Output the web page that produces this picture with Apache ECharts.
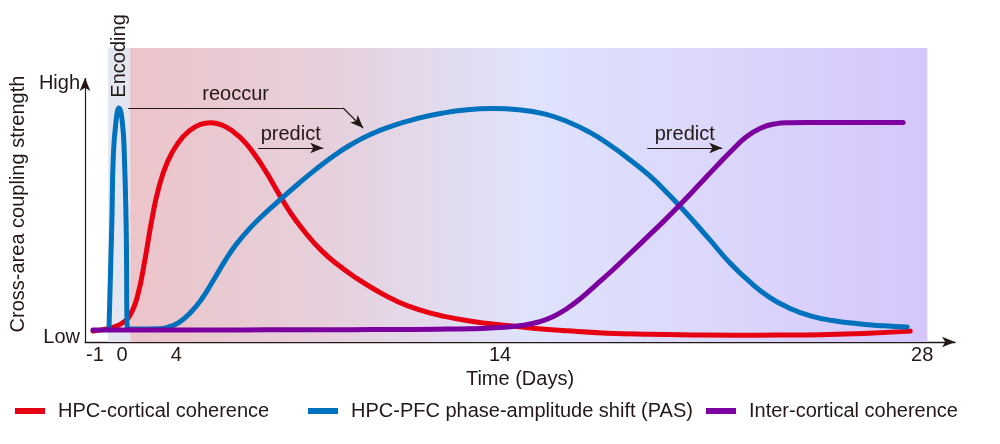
<!DOCTYPE html>
<html>
<head>
<meta charset="utf-8">
<title>Cross-area coupling</title>
<script src="https://cdn.jsdelivr.net/npm/echarts@6/dist/echarts.min.js"></script>
<style>
html, body { margin: 0; padding: 0; background: #fff; }
#main { width: 1000px; height: 444px; }
</style>
</head>
<body>
<div id="main"></div>
<script>
// values (x in drawn days, y in relative strength 0-100)
var hpcCortical = [
    [-1.02, 3.7], [-0.4, 4.8], [0.0, 6.4], [0.3, 9.5], [0.55, 16.0], [0.8, 28.0],
    [1.05, 42.0], [1.3, 53.0], [1.6, 61.5], [1.95, 67.5], [2.35, 71.8], [2.75, 74.0],
    [3.1, 74.6], [3.5, 73.8], [3.9, 71.5], [4.3, 68.0], [4.7, 63.0], [5.1, 57.0],
    [5.5, 50.3], [5.9, 44.0], [6.4, 37.5], [7.0, 31.0], [7.6, 26.0], [8.2, 21.8],
    [8.9, 17.6], [9.6, 14.0], [10.4, 11.0], [11.3, 8.7], [12.3, 7.0], [13.3, 5.8],
    [14.4, 4.7], [15.6, 3.8], [17.0, 3.0], [18.5, 2.6], [20.0, 2.4], [21.5, 2.3],
    [23.0, 2.35], [24.5, 2.5], [26.0, 2.9], [27.63, 3.7]
];
// the encoding spike and the later rise are one series
var hpcPfcPas = [
    [-0.46, 4.4], [-0.36, 40.5], [-0.31, 62.9], [-0.22, 74.5], [-0.11, 79.6], [0.01, 74.5],
    [0.08, 62.9], [0.14, 40.5], [0.20, 4.4], [0.7, 4.4], [1.2, 4.5], [1.6, 5.0],
    [2.0, 6.7], [2.4, 10.0], [2.8, 14.8], [3.2, 21.0], [3.6, 27.5], [4.0, 33.2],
    [4.5, 38.9], [5.0, 43.7], [5.6, 48.9], [6.2, 54.0], [6.8, 58.8], [7.4, 63.2],
    [8.0, 67.0], [8.7, 70.6], [9.5, 73.6], [10.3, 75.9], [11.2, 77.8], [12.1, 79.0],
    [13.0, 79.4], [13.9, 79.0], [14.8, 77.6], [15.6, 75.0], [16.4, 71.3], [17.1, 67.0],
    [17.8, 62.0], [18.5, 56.5], [19.2, 49.8], [19.9, 42.5], [20.6, 34.8], [21.3, 27.0],
    [22.0, 20.5], [22.7, 15.2], [23.4, 11.5], [24.1, 9.0], [24.9, 7.3], [25.8, 6.2],
    [26.7, 5.5], [27.52, 5.1]
];
var interCortical = [
    [-1.02, 4.1], [0.5, 4.1], [2.0, 4.1], [3.5, 4.1], [5.0, 4.15], [6.5, 4.2],
    [8.0, 4.2], [9.5, 4.25], [11.0, 4.35], [12.2, 4.5], [13.2, 4.9], [14.0, 5.6],
    [14.6, 6.8], [15.1, 8.6], [15.6, 11.4], [16.1, 15.0], [16.6, 19.3], [17.2, 24.5],
    [17.8, 30.0], [18.4, 35.6], [19.0, 41.2], [19.6, 47.1], [20.2, 53.2], [20.8, 59.4],
    [21.4, 65.4], [21.9, 69.9], [22.4, 72.8], [22.9, 74.2], [23.4, 74.6], [24.0, 74.7],
    [24.8, 74.7], [25.6, 74.7], [26.5, 74.7], [27.38, 74.7]
];

var xTickPos = [-0.95, 0, 1.9, 13.25, 28.05];
var xTickText = ['-1', '0', '4', '14', '28'];
var yTickPos = [1.7, 88.1];
var yTickText = ['Low', 'High'];

var phaseNames = ['Recent memory', 'System consolidation', 'Remote memory'];
var phaseX = [4.0, 13.36, 23.21];

var seriesNames = ['HPC-cortical coherence', 'HPC-PFC phase-amplitude shift (PAS)', 'Inter-cortical coherence'];
var seriesColors = ['#e60012', '#0071bc', '#7b009f'];

var font = 'Liberation Sans, Arial, sans-serif';
var ink = '#231815';

var myChart = echarts.init(document.getElementById('main'));

var bandGradient = {
    type: 'linear', x: 0, y: 0, x2: 1, y2: 0,
    colorStops: [
        { offset: 0, color: '#ecc4c9' },
        { offset: 0.25, color: '#e6d0dc' },
        { offset: 0.5, color: '#dfe3fb' },
        { offset: 0.75, color: '#dbd6fb' },
        { offset: 1, color: '#d5c6fb' }
    ]
};

function textLabel(txt, rotate) {
    return {
        show: true, position: 'inside', formatter: txt, rotate: rotate || 0,
        color: ink, fontSize: 20, fontFamily: font
    };
}

var headerPoints = phaseNames.map(function (n, i) {
    return { coord: [phaseX[i], 106.8], label: textLabel(n) };
});
headerPoints.push({ coord: [-0.1, 97.3], label: textLabel('Encoding', 90) });

function arrowLabel(txt) {
    return {
        show: true, position: 'insideMiddleTop', distance: 3, formatter: txt,
        color: ink, fontSize: 20, fontFamily: font
    };
}

var option = {
    animation: false,
    grid: { left: 85, right: 45, top: 48, bottom: 102 },
    xAxis: {
        type: 'value', min: -1.3, max: 29.2,
        name: 'Time (Days)', nameLocation: 'middle', nameGap: 22,
        nameTextStyle: { color: ink, fontSize: 20, fontFamily: font },
        axisLine: {
            show: true, onZero: false, symbol: ['none', 'arrow'], symbolSize: [8, 13],
            lineStyle: { color: ink, width: 1.3 }
        },
        axisTick: { show: false },
        splitLine: { show: false },
        axisLabel: {
            customValues: xTickPos, margin: 3,
            color: ink, fontSize: 20, fontFamily: font,
            formatter: function (v) { return xTickText[xTickPos.indexOf(v)]; }
        }
    },
    yAxis: {
        type: 'value', min: 0, max: 100,
        name: 'Cross-area coupling strength', nameLocation: 'middle', nameGap: 51, nameRotate: 90,
        nameTextStyle: { color: ink, fontSize: 20, fontFamily: font, padding: [0, 18, 0, 0] },
        axisLine: { show: false, onZero: false },
        axisTick: { show: false },
        splitLine: { show: false },
        axisLabel: {
            customValues: yTickPos, margin: 5,
            color: ink, fontSize: 20, fontFamily: font,
            formatter: function (v) { return yTickText[yTickPos.indexOf(v)]; }
        }
    },
    legend: seriesNames.map(function (n, i) {
        return {
            data: [n], left: [15, 308, 706][i], top: 401, padding: 0,
            icon: 'rect', itemWidth: 30, itemHeight: 6,
            textStyle: { color: ink, fontSize: 20, fontFamily: font, padding: [0, 0, 0, 8] }
        };
    }),
    series: [
        {
            name: 'decor', type: 'line', data: [], z: 1, silent: true, clip: false,
            markArea: {
                silent: true, label: { show: false },
                data: [
                    [{ coord: [0.28, 0], itemStyle: { color: bandGradient } }, { coord: [28.23, 100] }],
                    [{ coord: [-0.49, 0], itemStyle: { color: '#e3e6f0' } }, { coord: [0.28, 100] }]
                ]
            },
            markLine: {
                silent: true, symbol: ['none', 'none'], symbolSize: [8, 13],
                lineStyle: { color: ink, width: 1.2, type: 'solid' },
                label: { show: false },
                data: [
                    [{ coord: [-1.3, 0] }, { coord: [-1.3, 89.8], symbol: 'arrow' }],
                    [{ coord: [0.21, 79.6], label: arrowLabel('reoccur') }, { coord: [7.75, 79.6] }],
                    [{ coord: [7.75, 79.6] }, { coord: [8.45, 72.8], symbol: 'arrow' }],
                    [{ coord: [4.77, 66.0], label: arrowLabel('predict') }, { coord: [7.05, 66.0], symbol: 'arrow' }],
                    [{ coord: [18.41, 66.0], label: arrowLabel('predict') }, { coord: [21.04, 66.0], symbol: 'arrow' }]
                ]
            },
            markPoint: {
                silent: true, symbolSize: 0,
                data: headerPoints
            }
        }
    ].concat([hpcCortical, hpcPfcPas, interCortical].map(function (d, i) {
        return {
            name: seriesNames[i], type: 'line', data: d, z: 2 + i,
            smooth: 0.5, showSymbol: false,
            itemStyle: { color: seriesColors[i] },
            lineStyle: { color: seriesColors[i], width: 5, join: 'round', cap: 'round' }
        };
    }))
};

myChart.setOption(option);
</script>
</body>
</html>
